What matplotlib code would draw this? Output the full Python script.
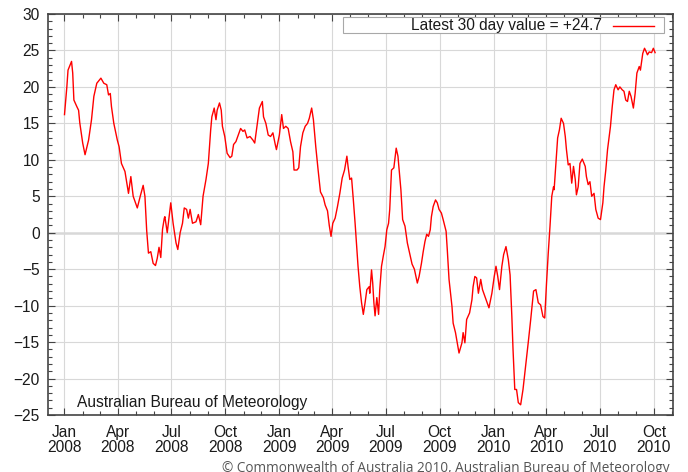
import datetime as dt
import matplotlib
matplotlib.use("Agg")
import matplotlib.pyplot as plt
import matplotlib.dates as mdates
from matplotlib.ticker import MultipleLocator, FuncFormatter
from matplotlib.patches import Rectangle
from matplotlib.lines import Line2D

# ---- data: 30-day SOI value, days since 2008-01-01 ----
days = [0, 4, 6, 12, 14, 16, 21, 24, 26, 31, 35, 41, 46, 50, 55, 62, 67, 72, 75, 78,
        80, 84, 90, 93, 97, 103, 109, 113, 117, 124, 129, 134, 137, 140, 143, 147, 151, 155, 158, 161,
        164, 167, 170, 171, 175, 181, 185, 190, 193, 197, 201, 204, 208, 211, 214, 218, 224, 228, 232, 236,
        241, 245, 249, 251, 255, 258, 260, 264, 267, 269, 273, 277, 282, 285, 288, 292, 296, 300, 304, 307,
        311, 316, 321, 324, 327, 332, 337, 339, 343, 347, 351, 355, 359, 361, 366, 370, 373, 377, 381, 385,
        389, 391, 396, 399, 402, 406, 410, 414, 417, 421, 424, 428, 432, 436, 441, 444, 448, 451, 454, 457,
        461, 465, 469, 473, 477, 481, 483, 486, 489, 492, 495, 498, 500, 503, 506, 509, 512, 515, 519, 520,
        523, 525, 527, 529, 532, 535, 537, 540, 543, 546, 549, 552, 554, 557, 561, 565, 568, 570, 573, 576,
        580, 584, 589, 592, 596, 601, 604, 608, 611, 614, 617, 620, 623, 625, 628, 632, 635, 638, 642, 645,
        650, 652, 655, 660, 662, 666, 669, 672, 677, 679, 682, 685, 690, 694, 696, 699, 702, 705, 709, 712,
        716, 720, 723, 728, 732, 735, 738, 741, 745, 748, 752, 756, 759, 762, 764, 767, 770, 773, 777, 781,
        786, 790, 794, 799, 803, 807, 811, 815, 818, 821, 824, 827, 830, 833, 834, 837, 840, 843, 846, 850,
        853, 855, 858, 861, 864, 867, 870, 872, 875, 878, 882, 887, 889, 892, 895, 898, 902, 905, 909, 913,
        917, 919, 922, 925, 927, 930, 933, 936, 939, 943, 946, 950, 953, 956, 959, 962, 965, 969, 972, 975,
        979, 981, 985, 988, 991, 993, 996, 1000, 1003, 1006]
soi = [16.2, 20.0, 22.3, 23.5, 21.9, 18.2, 17.3, 16.8, 15.1, 12.3, 10.7, 12.7, 15.5, 18.7, 20.5, 21.2, 20.5, 20.3, 18.9, 19.1,
       17.3, 15.0, 12.7, 11.8, 9.5, 8.4, 5.4, 7.7, 5.0, 3.4, 5.0, 6.5, 5.0, 0.3, -2.8, -2.6, -4.2, -4.5, -3.5, -2.0,
       -3.4, 0.5, 2.0, 2.2, 0.0, 4.1, 1.3, -1.4, -2.3, 0.0, 1.3, 3.4, 3.2, 2.0, 3.2, 1.3, 1.5, 2.5, 1.1, 5.0,
       7.3, 9.5, 14.1, 15.9, 17.1, 15.5, 16.8, 17.8, 16.8, 14.6, 13.2, 10.9, 10.3, 10.5, 12.1, 12.5, 13.4, 14.3, 13.9, 14.1,
       13.0, 13.2, 12.7, 12.3, 14.1, 17.1, 18.0, 15.9, 15.0, 13.4, 13.2, 13.7, 12.1, 11.4, 13.4, 16.2, 14.3, 14.6, 14.3, 12.5,
       11.1, 8.6, 8.6, 8.9, 11.8, 13.7, 14.6, 15.0, 15.7, 17.1, 15.5, 11.8, 8.6, 5.6, 4.8, 3.8, 3.0, 1.0, -0.5, 1.3,
       2.0, 3.6, 5.4, 7.5, 8.6, 10.5, 9.1, 7.3, 7.5, 4.5, 1.3, -2.3, -4.6, -7.4, -9.6, -11.2, -9.6, -7.8, -7.4, -8.3,
       -5.1, -6.9, -9.6, -11.4, -8.9, -11.2, -7.8, -4.6, -3.2, -1.9, 0.4, 1.3, 3.2, 8.6, 8.9, 11.6, 10.5, 8.6, 5.9, 1.8,
       0.9, -1.4, -3.2, -4.3, -5.0, -6.9, -6.0, -4.2, -2.6, -1.2, -0.2, -0.5, 0.4, 2.2, 3.6, 4.5, 4.1, 3.2, 2.7, 1.8,
       0.2, -2.3, -6.4, -10.1, -12.4, -13.7, -15.1, -16.5, -15.1, -13.7, -15.1, -11.9, -11.0, -9.2, -7.4, -6.0, -6.2, -8.3, -6.4, -7.8,
       -8.7, -9.6, -10.3, -8.3, -6.0, -4.6, -6.0, -7.8, -4.6, -3.0, -1.9, -3.7, -5.8, -11.5, -16.0, -21.5, -21.5, -23.3, -23.6, -21.5,
       -17.9, -15.0, -12.0, -8.0, -7.8, -9.6, -9.9, -11.5, -11.7, -7.0, -2.8, 0.9, 5.0, 6.3, 5.9, 9.5, 13.0, 14.1, 15.7, 15.0,
       13.2, 11.4, 9.3, 9.5, 6.8, 9.1, 7.3, 5.2, 6.3, 9.5, 10.1, 9.1, 7.7, 6.6, 7.0, 5.0, 5.4, 3.2, 2.0, 1.8,
       4.1, 6.3, 8.6, 11.4, 12.7, 14.6, 17.3, 19.6, 20.3, 19.6, 20.0, 19.6, 19.4, 18.2, 18.0, 19.4, 18.7, 17.1, 19.1, 21.9,
       22.8, 22.3, 24.6, 25.3, 24.8, 24.4, 24.8, 24.7, 25.3, 24.7]
legend_label = "Latest 30 day value = +24.7"
watermark = "Australian Bureau of Meteorology"
copyright_text = "\u00a9 Commonwealth of Australia 2010, Australian Bureau of Meteorology"

base = dt.date(2008, 1, 1)
dates = [base + dt.timedelta(days=d) for d in days]

plt.rcParams['font.family'] = ['Liberation Sans', 'DejaVu Sans']
FS = 11.2

W, H = 688, 472
fig = plt.figure(figsize=(W / 100, H / 100), dpi=100)
fig.patch.set_facecolor('white')

def fx(px):
    return px / W

def fy(py):
    return 1 - py / H

ax = fig.add_axes([fx(48), fy(415), fx(673) - fx(48), fy(14) - fy(415)])
ax.plot(dates, soi, color='#ff0000', lw=1.0, zorder=3)

ax.set_ylim(-25, 30)
ax.set_xlim(mdates.date2num(base) - 28.1, mdates.date2num(base) + 1036.5)

ax.xaxis.set_major_locator(mdates.MonthLocator(bymonth=[1, 4, 7, 10]))
ax.xaxis.set_minor_locator(mdates.MonthLocator())
ax.xaxis.set_major_formatter(FuncFormatter(lambda v, p: mdates.num2date(v).strftime('%b\n%Y')))
ax.yaxis.set_major_locator(MultipleLocator(5))
ax.yaxis.set_minor_locator(MultipleLocator(1))

ax.tick_params(which='both', direction='in', top=True, right=True, color='#444444',
               labelcolor='#1a1a1a', labelsize=FS)
ax.tick_params(which='major', length=5, width=0.8)
ax.tick_params(which='minor', length=3, width=0.8)
ax.tick_params(axis='y', pad=6)
ax.tick_params(axis='x', pad=7)
for lab in ax.get_xticklabels():
    lab.set_linespacing(1.05)

ax.grid(which='major', color='#d8d8d8', lw=0.8, zorder=0)
ax.axhline(0, color='#707070', lw=1.0, zorder=1)
for s in ax.spines.values():
    s.set_color('#444444')
    s.set_linewidth(1.2)

# legend box (gnuplot style)
fig.add_artist(Rectangle((fx(343), fy(33)), fx(664) - fx(343), fy(17) - fy(33),
                         transform=fig.transFigure, facecolor='white', edgecolor='#a8a8a8',
                         lw=0.8, zorder=5))
fig.text(fx(602), fy(25.5), legend_label, ha='right', va='center', fontsize=FS,
         color='#1a1a1a', zorder=6)
fig.add_artist(Line2D([fx(613), fx(654)], [fy(26), fy(26)], color='#ff0000', lw=1.0,
                      transform=fig.transFigure, zorder=6))

fig.text(fx(77), fy(402), watermark, ha='left', va='center', fontsize=FS, color='#1a1a1a')

fig.text(fx(222), 0.0, copyright_text, ha='left', va='baseline', fontsize=9.8,
         color='#555555', family=['Open Sans', 'DejaVu Sans'])

fig.savefig('out.png', dpi=100)
